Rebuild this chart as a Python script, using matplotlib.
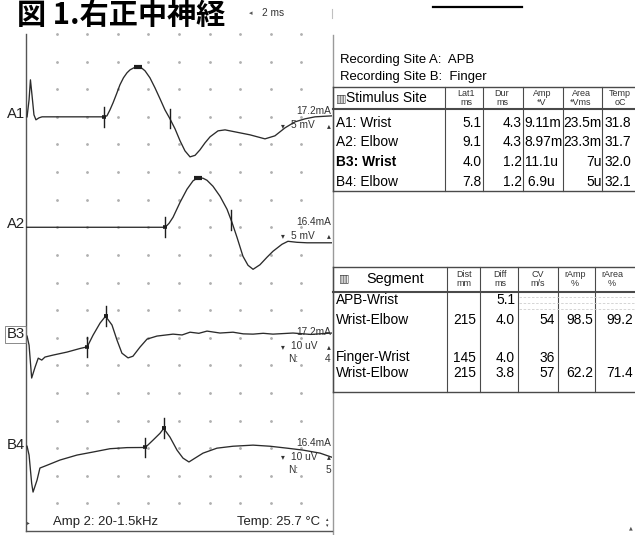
import numpy as np
import matplotlib
matplotlib.use("Agg")
import matplotlib.pyplot as plt
from matplotlib import font_manager

# ---------------------------------------------------------------- data
# Waveforms: time in ms; A traces in mV, B traces in uV
a1_t = [0.07, 0.20, 0.29, 0.39, 0.52, 0.65, 0.85, 1.05, 5.1, 5.29, 5.49, 5.69, 5.92, 6.14,
        6.37, 6.60, 6.80, 6.99, 7.19, 7.32, 7.48, 7.78, 8.10, 8.43, 8.76, 9.08, 9.41, 9.74,
        10.07, 10.39, 10.72, 11.05, 11.37, 11.70, 12.03, 12.55, 13.01, 13.66, 14.64, 15.62,
        16.27, 16.93, 17.58, 18.24, 18.89, 20.0]
a1_v = [0.0, 3.08, 6.70, 3.99, 0.36, -0.54, -0.18, 0.0, 0.0, 0.18, 1.27, 2.54, 4.17, 5.80,
        7.07, 7.97, 8.51, 8.79, 9.06, 9.11, 9.02, 8.33, 7.07, 5.25, 3.26, 1.27, -0.36, -2.17,
        -4.35, -6.16, -7.25, -6.97, -5.98, -4.71, -3.62, -2.54, -2.36, -2.72, -3.26, -3.99,
        -3.44, -1.99, -0.91, -0.36, 0.0, 0.18]

a2_t = [0.0, 9.1, 9.35, 9.61, 10.07, 10.52, 10.92, 11.24, 11.57, 11.83, 12.22, 12.68, 13.14,
        13.46, 13.79, 14.18, 14.51, 14.84, 15.29, 15.75, 16.14, 16.73, 17.12, 17.71, 18.37, 20.0]
a2_v = [0.0, 0.0, 0.72, 1.81, 4.53, 6.88, 8.42, 8.97, 8.88, 8.51, 7.43, 5.62, 3.26,
        0.91, -1.81, -5.25, -6.88, -7.61, -6.79, -5.43, -4.35, -3.08, -2.54, -2.72, -2.81, -2.81]

b3_t = [0.07, 0.20, 0.37, 0.59, 0.80, 1.03, 1.24, 1.76, 2.68, 3.53, 4.0, 4.38, 4.84, 5.2,
        5.62, 5.95, 6.27, 6.67, 6.99, 7.45, 7.91, 8.56, 9.61, 10.2, 10.72, 11.3, 11.83, 12.68,
        13.53, 14.2, 14.84, 15.5, 16.14, 17.45, 18.6, 20.0]
b3_v = [0.58, -2.68, -14.6, -10.7, -7.4, -8.1, -7.0, -6.3, -5.2, -3.9, -3.3, 0.9, 5.3, 7.8,
        4.6, -0.9, -5.6, -7.3, -6.7, -3.4, -0.5, 0.6, 1.3, 1.0, 2.0, 1.6, 2.4, 1.7,
        2.0, 1.4, 1.3, 1.6, 1.3, 1.7, 1.2, 1.7]

b4_t = [0.07, 0.20, 0.37, 0.46, 0.72, 0.91, 1.37, 2.22, 3.33, 4.38, 5.49, 6.60, 7.8, 8.30,
        8.76, 9.0, 9.41, 9.87, 10.26, 10.65, 11.05, 11.57, 12.48, 13.53, 14.84, 15.95, 17.06,
        18.10, 19.22, 20.0]
b4_v = [0.7, -2.5, -12.7, -15.9, -11.6, -7.2, -6.2, -4.3, -2.5, -1.4, -0.2, 0.2, 0.25, 2.9,
        5.4, 7.15, 4.0, -0.7, -3.6, -5.0, -3.6, -1.8, 0.0, 0.7, 1.1, 0.7, 0.0,
        -0.7, -1.8, -3.3]

trace_names = ["A1", "A2", "B3", "B4"]
stim_sites = ["A1: Wrist", "A2: Elbow", "B3: Wrist", "B4: Elbow"]
lat1 = [5.1, 9.1, 4.0, 7.8]
dur = [4.3, 4.3, 1.2, 1.2]
amp_txt = ["9.11m", "8.97m", "11.1u", " 6.9u"]
area_txt = ["23.5m", "23.3m", "7u", "5u"]
temp_c = [31.8, 31.7, 32.0, 32.1]
stim_ma = [17.2, 16.4, 17.2, 16.4]
sens = [5, 5, 10, 10]
sens_unit = ["mV", "mV", "uV", "uV"]
n_avg = [None, None, 4, 5]

segments = ["APB-Wrist", "Wrist-Elbow", "", "Finger-Wrist", "Wrist-Elbow"]
dist_mm = [None, 215, None, 145, 215]
diff_ms = [5.1, 4.0, None, 4.0, 3.8]
cv_ms = [None, 54, None, 36, 57]
ramp_pct = [None, 98.5, None, None, 62.2]
rarea_pct = [None, 99.2, None, None, 71.4]

# ---------------------------------------------------------------- fonts
_names = {f.name for f in font_manager.fontManager.ttflist}
if "Liberation Sans Narrow" in _names:
    SANS = ["Liberation Sans Narrow", "DejaVu Sans"]
    K = 1.0
else:
    SANS = ["Liberation Sans", "DejaVu Sans"]
    K = 0.86
SMALL = ["Liberation Sans", "DejaVu Sans"]
SYM = ["DejaVu Sans"]
CJK = ["Noto Sans CJK JP", "DejaVu Sans"]

TRACE = "#2b2b2b"
MARK = "#1e1e1e"
LINE = "#4a4a4a"

# ---------------------------------------------------------------- figure
fig = plt.figure(figsize=(6.35, 5.35), dpi=100)
fig.patch.set_facecolor("white")

ov = fig.add_axes([0, 0, 1, 1])
ov.set_xlim(0, 635)
ov.set_ylim(535, 0)
ov.axis("off")

W, H = 635.0, 535.0
ax = fig.add_axes([26 / W, 4 / H, 306 / W, 497 / H])
ax.set_facecolor("none")
ax.set_xlim(0, 20)
ax.set_ylim(18, 0)
ax.set_xticks([])
ax.set_yticks([])
ax.spines["top"].set_visible(False)
ax.spines["right"].set_visible(False)
ax.spines["left"].set_color("#555555")
ax.spines["bottom"].set_color("#555555")
ax.spines["left"].set_linewidth(1.0)
ax.spines["bottom"].set_linewidth(1.0)

# dotted grid: 2 ms per column, one division per row
gx, gy = np.meshgrid(np.arange(2, 20, 2), np.arange(0, 18))
ax.plot(gx.ravel(), gy.ravel(), ".", ms=2.0, color="#b0b0b0", clip_on=False, zorder=1)

rows = [3, 7, 11, 15]
traces = [(a1_t, a1_v), (a2_t, a2_v), (b3_t, b3_v), (b4_t, b4_v)]

for i, (t, v) in enumerate(traces):
    t = np.asarray(t, float)
    v = np.asarray(v, float)
    base = rows[i]
    s = sens[i]
    ax.plot(t, base - v / s, color=TRACE, lw=0.95, zorder=3, solid_joinstyle="round")

    def ypos(tt):
        return base - np.interp(tt, t, v) / s

    # onset cursor
    t0 = lat1[i]
    y0 = ypos(t0)
    ax.plot([t0, t0], [y0 - 0.36, y0 + 0.36], color=MARK, lw=1.0, zorder=4)
    ax.plot([t0 - 0.13, t0 + 0.13], [y0, y0], color=MARK, lw=2.6,
            solid_capstyle="butt", zorder=4)
    t1 = lat1[i] + dur[i]
    y1 = ypos(t1)
    if sens_unit[i] == "mV":
        # end-of-response cursor and peak bar
        ax.plot([t1, t1], [y1 - 0.36, y1 + 0.36], color=MARK, lw=1.0, zorder=4)
        k = int(np.argmax(np.where(t > 2, v, -np.inf)))
        tp, yp = t[k], base - v[k] / s
        ax.plot([tp - 0.28, tp + 0.28], [yp, yp], color=MARK, lw=3.0,
                solid_capstyle="butt", zorder=4)
    else:
        ax.plot([t1, t1], [y1 - 0.36, y1 + 0.36], color=MARK, lw=1.0, zorder=4)
        ax.plot([t1 - 0.13, t1 + 0.13], [y1, y1], color=MARK, lw=2.8,
                solid_capstyle="butt", zorder=4)

    # trace label at the left
    lab_kw = dict(ha="right", va="center", fontsize=12.5 * K, family=SANS, color="#222222")
    if i == 2:
        lab_kw["bbox"] = dict(boxstyle="square,pad=0.08", fc="none", ec="#777777", lw=0.6)
    ax.text(-0.08, base - 0.12, trace_names[i], clip_on=False, **lab_kw)

    # stimulus / sensitivity annotations at the right
    ax.text(19.93, base - 0.2, f"{stim_ma[i]:.1f}mA", ha="right", va="center",
            fontsize=7.3, family=SMALL, color="#333333", zorder=2)
    ax.text(16.82, base + 0.31, "▾", ha="center", va="center", fontsize=5.5,
            family=SYM, color="#333333")
    ax.text(17.35, base + 0.31, f"{sens[i]} {sens_unit[i]}", ha="left", va="center",
            fontsize=7.3, family=SMALL, color="#333333", zorder=2)
    ax.text(19.8, base + 0.31, "▴", ha="center", va="center", fontsize=5.5,
            family=SYM, color="#333333")
    if n_avg[i] is not None:
        ax.text(17.1, base + 0.78, "N:", ha="left", va="center", fontsize=7.3,
                family=SMALL, color="#333333")
        ax.text(19.93, base + 0.78, str(n_avg[i]), ha="right", va="center", fontsize=7.3,
                family=SMALL, color="#333333")

# ---------------------------------------------------------------- header area
ov.text(17, 15, "図 1.右正中神経", ha="left", va="center", fontsize=21,
        fontweight="bold", family=CJK, color="black")
ov.text(251, 13, "◂", ha="center", va="center", fontsize=5, family=SYM, color="#555555")
ov.text(262, 13, "2 ms", ha="left", va="center", fontsize=7.3, family=SMALL, color="#333333")
ov.plot([332, 332], [9, 18], color="#c0c0c0", lw=0.8)
ov.plot([433, 522], [7, 7], color="black", lw=1.6)

# separator between trace panel and report
ov.plot([333, 333], [35, 535], color="#9a9a9a", lw=1.0)

# footer of the trace panel
ov.text(28, 523, "▸", ha="center", va="center", fontsize=4, family=SYM, color="#444444")
ov.text(53, 522, "Amp 2: 20-1.5kHz", ha="left", va="center", fontsize=11 * K,
        family=SANS, color="#222222")
ov.text(320, 522, "Temp: 25.7 °C", ha="right", va="center", fontsize=11 * K,
        family=SANS, color="#222222")
ov.text(327, 519.5, "▴", ha="center", va="center", fontsize=3.5, family=SYM, color="#333333")
ov.text(327, 526, "▾", ha="center", va="center", fontsize=3.5, family=SYM, color="#333333")
ov.text(631, 528, "▲", ha="center", va="center", fontsize=3.5, family=SYM, color="#555555")

# ---------------------------------------------------------------- stimulus table
TXT = dict(family=SANS, color="black", va="center")
ov.text(340, 60, "Recording Site A:  APB", ha="left", fontsize=11 * K, **TXT)
ov.text(340, 77, "Recording Site B:  Finger", ha="left", fontsize=11 * K, **TXT)

t1_top, t1_hdr, t1_bot = 87, 109, 191
t1_cols = [445, 483, 523, 563, 602]
for yy, lw in [(t1_top, 1.0), (t1_hdr, 1.5), (t1_bot, 1.0)]:
    ov.plot([333, 640], [yy, yy], color=LINE, lw=lw)
ov.plot([333, 333], [t1_top, t1_bot], color=LINE, lw=1.0)
for xc in t1_cols:
    ov.plot([xc, xc], [t1_top, t1_bot], color=LINE, lw=0.8)

ov.text(341, 98, "▥", ha="center", va="center", fontsize=8, family=SYM, color="#444444")
ov.text(346, 98, "Stimulus Site", ha="left", fontsize=11.5 * K, **TXT)
hdr1 = [("Lat1", "ms", 466.5), ("Dur", "ms", 502), ("Amp", "*V", 542),
        ("Area", "*Vms", 581), ("Temp", "oC", 620)]
for top, bot, xc in hdr1:
    ov.text(xc, 94, top, ha="center", va="center", fontsize=6.5, family=SMALL, color="#333333")
    ov.text(xc, 102.5, bot, ha="center", va="center", fontsize=6.5, family=SMALL, color="#333333")

row_y1 = [123, 142.5, 162, 181.5]
for j in range(4):
    y = row_y1[j]
    fw = "bold" if j == 2 else "normal"
    ov.text(336, y, stim_sites[j], ha="left", fontsize=11.5 * K, fontweight=fw, **TXT)
    ov.text(481.5, y, f"{lat1[j]:.1f}", ha="right", fontsize=11.5 * K, **TXT)
    ov.text(521.5, y, f"{dur[j]:.1f}", ha="right", fontsize=11.5 * K, **TXT)
    ov.text(524.5, y, amp_txt[j], ha="left", fontsize=11.5 * K, **TXT)
    ov.text(601.5, y, area_txt[j], ha="right", fontsize=11.5 * K, **TXT)
    ov.text(605, y, f"{temp_c[j]:.1f}", ha="left", fontsize=11.5 * K, **TXT)

# ---------------------------------------------------------------- segment table
t2_top, t2_hdr, t2_bot = 267, 292, 392
t2_cols = [447, 480, 518, 558, 595]
for yy, lw in [(t2_top, 1.0), (t2_hdr, 1.5), (t2_bot, 1.0)]:
    ov.plot([333, 640], [yy, yy], color=LINE, lw=lw)
ov.plot([333, 333], [t2_top, t2_bot], color=LINE, lw=1.0)
for xc in t2_cols:
    ov.plot([xc, xc], [t2_top, t2_bot], color=LINE, lw=0.8)

ov.text(344, 278, "▥", ha="center", va="center", fontsize=8, family=SYM, color="#444444")
ov.text(395, 279, "Segment", ha="center", fontsize=12 * K, **TXT)
hdr2 = [("Dist", "mm", 464), ("Diff", "ms", 500), ("CV", "m/s", 538),
        ("rAmp", "%", 575), ("rArea", "%", 612)]
for top, bot, xc in hdr2:
    ov.text(xc, 274.5, top, ha="center", va="center", fontsize=6.5, family=SMALL, color="#333333")
    ov.text(xc, 283, bot, ha="center", va="center", fontsize=6.5, family=SMALL, color="#333333")

# empty cells of the first segment row are shaded with dashes
for yy in (297, 303, 309):
    ov.plot([519, 640], [yy, yy], color="#cfcfcf", lw=0.6, ls=(0, (3, 2)))

row_y2 = [300.5, 320, 339, 357.5, 373]
for j, seg in enumerate(segments):
    y = row_y2[j]
    if seg:
        ov.text(336, y, seg, ha="left", fontsize=11.5 * K, **TXT)
    if dist_mm[j] is not None:
        ov.text(476, y, f"{dist_mm[j]}", ha="right", fontsize=11.5 * K, **TXT)
    if diff_ms[j] is not None:
        ov.text(515, y, f"{diff_ms[j]:.1f}", ha="right", fontsize=11.5 * K, **TXT)
    if cv_ms[j] is not None:
        ov.text(555, y, f"{cv_ms[j]}", ha="right", fontsize=11.5 * K, **TXT)
    if ramp_pct[j] is not None:
        ov.text(593, y, f"{ramp_pct[j]:.1f}", ha="right", fontsize=11.5 * K, **TXT)
    if rarea_pct[j] is not None:
        ov.text(633, y, f"{rarea_pct[j]:.1f}", ha="right", fontsize=11.5 * K, **TXT)

fig.savefig("out.png", dpi=100, facecolor="white")
